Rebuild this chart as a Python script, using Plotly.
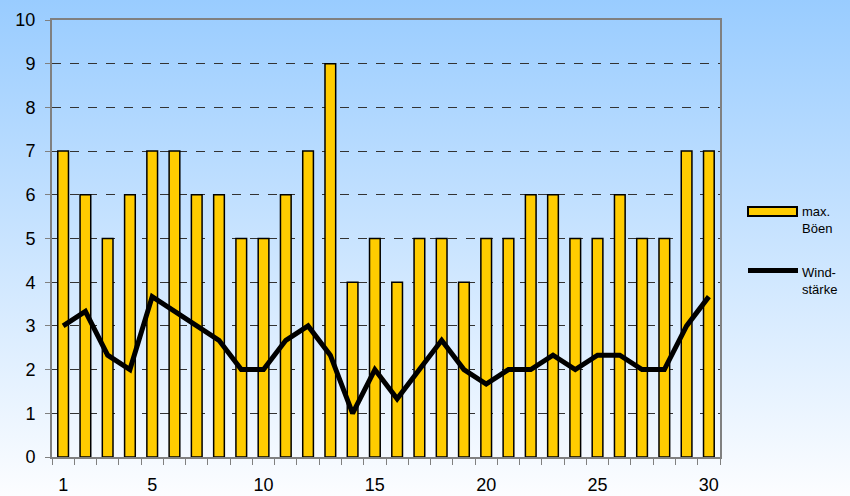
import base64
import plotly.graph_objects as go

days = list(range(1, 31))
max_boeen = [7, 6, 5, 6, 7, 7, 6, 6, 5, 5, 6, 7, 9, 4, 5, 4, 5, 5, 4, 5, 5, 6, 6, 5, 5, 6, 5, 5, 7, 7]
windstaerke = [3, 3.33, 2.33, 2, 3.67, 3.33, 3, 2.67, 2, 2, 2.67, 3, 2.33, 1, 2, 1.33, 2, 2.67, 2, 1.67,
               2, 2, 2.33, 2, 2.33, 2.33, 2, 2, 3, 3.67]
x_tick_vals = [1, 5, 10, 15, 20, 25, 30]
y_tick_vals = list(range(0, 11))
series_names = ["max.<br>Böen", "Wind-<br>stärke"]

W, H = 850, 496
ML, MR, MT, MB = 52, 130, 20, 39
pw, ph = W - ML - MR, H - MT - MB


def px(xp):
    return (xp - ML) / pw


def py(yp):
    return (H - MB - yp) / ph


svg = f'''<svg xmlns="http://www.w3.org/2000/svg" width="{W}" height="{H}" preserveAspectRatio="none">
<defs><linearGradient id="g" x1="0" y1="0" x2="0" y2="1">
<stop offset="0" stop-color="#99CCFF"/><stop offset="1" stop-color="#FCFDFF"/></linearGradient></defs>
<rect width="{W}" height="{H}" fill="url(#g)"/></svg>'''
src = "data:image/svg+xml;base64," + base64.b64encode(svg.encode()).decode()

fig = go.Figure()
fig.add_trace(go.Bar(
    x=days, y=max_boeen, name=series_names[0], showlegend=False,
    marker=dict(color="#FFCC00", line=dict(color="#000000", width=1.5)),
))
fig.add_trace(go.Scatter(
    x=days, y=windstaerke, name=series_names[1], mode="lines", showlegend=False,
    line=dict(color="#000000", width=5),
))

# custom legend (wide swatches as in the reference)
shapes = [
    dict(type="rect", xref="paper", yref="paper", x0=px(748), x1=px(797), y0=py(216), y1=py(207),
         fillcolor="#FFCC00", line=dict(color="#000000", width=2)),
    dict(type="line", xref="paper", yref="paper", x0=px(748), x1=px(798), y0=py(270.5), y1=py(270.5),
         line=dict(color="#000000", width=5)),
]
annotations = [
    dict(text=series_names[0], xref="paper", yref="paper", x=px(800), y=py(202), xanchor="left",
         yanchor="top", align="left", showarrow=False, font=dict(size=13)),
    dict(text=series_names[1], xref="paper", yref="paper", x=px(800), y=py(263), xanchor="left",
         yanchor="top", align="left", showarrow=False, font=dict(size=13)),
]

fig.update_layout(
    width=W, height=H,
    margin=dict(l=ML, r=MR, t=MT, b=MB, autoexpand=False),
    paper_bgcolor="rgba(0,0,0,0)",
    plot_bgcolor="rgba(0,0,0,0)",
    bargap=0.52,
    font=dict(family="Liberation Sans, Arial, sans-serif", color="#000000", size=18),
    showlegend=False,
    shapes=shapes,
    annotations=annotations,
    images=[dict(source=src, xref="paper", yref="paper",
                 x=-ML / pw, y=1 + MT / ph, sizex=W / pw, sizey=H / ph,
                 sizing="stretch", xanchor="left", yanchor="top", layer="below")],
)
fig.update_xaxes(
    range=[0.5, 30.5], tickmode="array", tickvals=x_tick_vals,
    ticks="", showgrid=False, zeroline=False,
    showline=True, linecolor="#808080", linewidth=2, mirror=True,
    ticklabelstandoff=10, automargin=False,
    minor=dict(tickmode="linear", tick0=0.5, dtick=1, ticks="outside", ticklen=6,
               tickcolor="#808080", tickwidth=1, showgrid=False),
)
fig.update_yaxes(
    range=[0, 10], tickmode="array", tickvals=y_tick_vals,
    ticks="outside", ticklen=5, tickcolor="#808080", automargin=False,
    ticklabelstandoff=6,
    showgrid=True, gridcolor="#333333", griddash="dash", gridwidth=1,
    zeroline=False, showline=True, linecolor="#808080", linewidth=2, mirror=True,
)
fig.write_html(
    "out.html",
    config={"displayModeBar": False},
    post_script="document.body.style.margin='0';document.body.style.padding='0';"
                "document.body.style.overflow='hidden';",
)
